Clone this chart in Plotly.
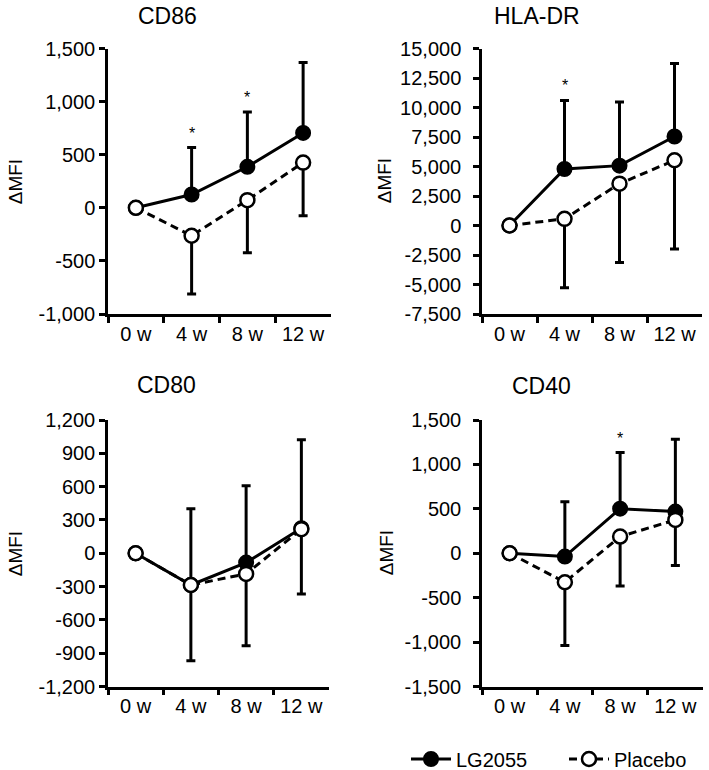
import plotly.graph_objects as go

categories = ["0 w", "4 w", "8 w", "12 w"]

# CD86
cd86_lg = [0, 125, 386, 705]
cd86_lg_sd = [0, 442, 517, 662]
cd86_pl = [0, -263, 72, 426]
cd86_pl_sd = [0, 549, 495, 501]
cd86_sig = [False, True, True, False]
cd86_ticks = [-1000, -500, 0, 500, 1000, 1500]
cd86_ticktext = ["-1,000", "-500", "0", "500", "1,000", "1,500"]

# HLA-DR
hla_lg = [0, 4790, 5074, 7540]
hla_lg_sd = [0, 5810, 5385, 6180]
hla_pl = [0, 567, 3543, 5527]
hla_pl_sd = [0, 5839, 6689, 7511]
hla_sig = [False, True, False, False]
hla_ticks = [-7500, -5000, -2500, 0, 2500, 5000, 7500, 10000, 12500, 15000]
hla_ticktext = ["-7,500", "-5,000", "-2,500", "0", "2,500", "5,000", "7,500",
                "10,000", "12,500", "15,000"]

# CD80
cd80_lg = [0, -286, -84, 226]
cd80_lg_sd = [0, 686, 691, 796]
cd80_pl = [0, -286, -186, 217]
cd80_pl_sd = [0, 682, 647, 584]
cd80_sig = [False, False, False, False]
cd80_ticks = [-1200, -900, -600, -300, 0, 300, 600, 900, 1200]
cd80_ticktext = ["-1,200", "-900", "-600", "-300", "0", "300", "600", "900", "1,200"]

# CD40
cd40_lg = [0, -37, 502, 469]
cd40_lg_sd = [0, 618, 631, 814]
cd40_pl = [0, -326, 188, 375]
cd40_pl_sd = [0, 713, 556, 514]
cd40_sig = [False, False, True, False]
cd40_ticks = [-1500, -1000, -500, 0, 500, 1000, 1500]
cd40_ticktext = ["-1,500", "-1,000", "-500", "0", "500", "1,000", "1,500"]

FONT = "Arial, Liberation Sans, sans-serif"
W, H = 709, 770

panels = [
    dict(name="CD86", lg=cd86_lg, lgsd=cd86_lg_sd, pl=cd86_pl, plsd=cd86_pl_sd, sig=cd86_sig,
         ticks=cd86_ticks, ticktext=cd86_ticktext, px=(108, 331), py=(48.5, 314),
         title_xy=(167, 16), ytitle_x=15, standoff=0),
    dict(name="HLA-DR", lg=hla_lg, lgsd=hla_lg_sd, pl=hla_pl, plsd=hla_pl_sd, sig=hla_sig,
         ticks=hla_ticks, ticktext=hla_ticktext, px=(482, 702), py=(48.5, 314),
         title_xy=(537, 16), ytitle_x=384, standoff=8),
    dict(name="CD80", lg=cd80_lg, lgsd=cd80_lg_sd, pl=cd80_pl, plsd=cd80_pl_sd, sig=cd80_sig,
         ticks=cd80_ticks, ticktext=cd80_ticktext, px=(108, 329), py=(420, 686.5),
         title_xy=(166, 385), ytitle_x=15, standoff=0),
    dict(name="CD40", lg=cd40_lg, lgsd=cd40_lg_sd, pl=cd40_pl, plsd=cd40_pl_sd, sig=cd40_sig,
         ticks=cd40_ticks, ticktext=cd40_ticktext, px=(482, 703), py=(420, 686.5),
         title_xy=(541, 386), ytitle_x=386, standoff=8),
]

fig = go.Figure()
annotations = []
layout_axes = {}

for i, p in enumerate(panels):
    n = i + 1
    xa = "x" if n == 1 else f"x{n}"
    ya = "y" if n == 1 else f"y{n}"
    xkey = "xaxis" if n == 1 else f"xaxis{n}"
    ykey = "yaxis" if n == 1 else f"yaxis{n}"

    fig.add_trace(go.Scatter(
        x=categories, y=p["lg"], xaxis=xa, yaxis=ya,
        mode="lines+markers", name="LG2055", showlegend=(n == 1), legendrank=1,
        line=dict(color="black", width=3),
        marker=dict(symbol="circle", size=14, color="black", line=dict(color="black", width=2)),
        error_y=dict(type="data", symmetric=False, array=p["lgsd"], arrayminus=[0] * 4,
                     color="black", thickness=3, width=4.5),
    ))
    fig.add_trace(go.Scatter(
        x=categories, y=p["pl"], xaxis=xa, yaxis=ya,
        mode="lines+markers", name="Placebo", showlegend=(n == 1), legendrank=2,
        line=dict(color="black", width=3, dash="8px,5px"),
        marker=dict(symbol="circle", size=14, color="white", line=dict(color="black", width=2.5)),
        error_y=dict(type="data", symmetric=False, array=[0] * 4, arrayminus=p["plsd"],
                     color="black", thickness=3, width=4.5),
    ))

    x0, x1 = p["px"]
    y0, y1 = p["py"]
    layout_axes[xkey] = dict(
        domain=[x0 / W, x1 / W], anchor=ya, type="category",
        categoryorder="array", categoryarray=categories,
        range=[-0.5, 3.5], tickson="boundaries", ticks="outside", ticklen=6,
        tickwidth=2.5, tickcolor="black", showline=True, linecolor="black", linewidth=2.5,
        showgrid=False, zeroline=False, tickfont=dict(size=20, color="black", family=FONT),
        tickangle=0, fixedrange=True,
    )
    layout_axes[ykey] = dict(
        domain=[1 - y1 / H, 1 - y0 / H], anchor=xa,
        range=[p["ticks"][0], p["ticks"][-1]], tickmode="array",
        tickvals=p["ticks"], ticktext=p["ticktext"], ticks="outside", ticklen=6,
        tickwidth=2.5, tickcolor="black", showline=True, linecolor="black", linewidth=2.5,
        showgrid=False, zeroline=False, tickfont=dict(size=20, color="black", family=FONT),
        ticklabelstandoff=p["standoff"], fixedrange=True,
    )

    tx, ty = p["title_xy"]
    annotations.append(dict(text=p["name"], x=tx / W, y=1 - ty / H, xref="paper", yref="paper",
                            showarrow=False, xanchor="center", yanchor="middle",
                            font=dict(size=23, color="black", family=FONT)))
    annotations.append(dict(text="ΔMFI", x=p["ytitle_x"] / W, y=1 - ((y0 + y1) / 2) / H,
                            xref="paper", yref="paper", showarrow=False, textangle=-90,
                            xanchor="center", yanchor="middle",
                            font=dict(size=19, color="black", family=FONT)))
    for j, s in enumerate(p["sig"]):
        if s:
            annotations.append(dict(text="*", x=categories[j], y=p["lg"][j] + p["lgsd"][j],
                                    xref=xa, yref=ya, showarrow=False, yanchor="bottom",
                                    yshift=4, font=dict(size=16, color="black", family=FONT)))

fig.update_layout(
    width=W, height=H, margin=dict(l=0, r=0, t=0, b=0, autoexpand=False),
    paper_bgcolor="white", plot_bgcolor="white",
    font=dict(family=FONT, color="black", size=20),
    annotations=annotations,
    showlegend=True,
    legend=dict(orientation="h", x=406 / W, y=1 - 759 / H, xanchor="left", yanchor="middle",
                font=dict(size=20, color="black", family=FONT), bgcolor="rgba(0,0,0,0)",
                itemwidth=40, tracegroupgap=0, entrywidth=103, entrywidthmode="pixels"),
    **layout_axes,
)

fig.write_html("out.html")
